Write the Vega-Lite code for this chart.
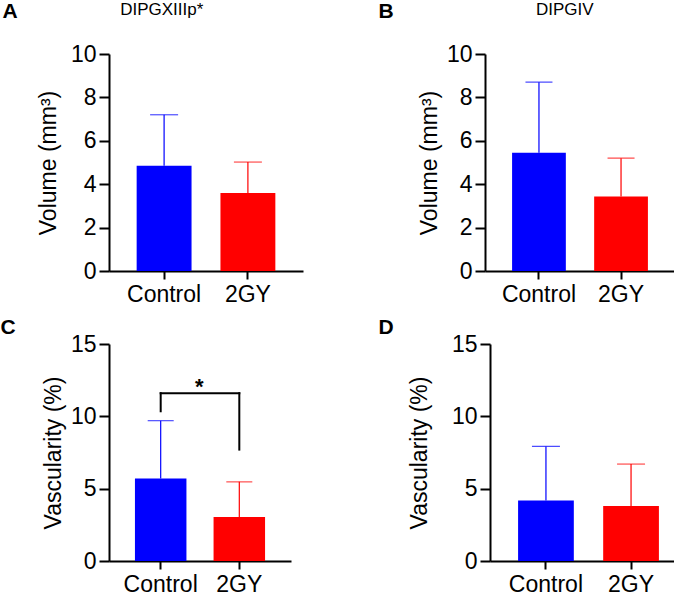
{
  "$schema": "https://vega.github.io/schema/vega-lite/v6.json",
  "padding": {"top": 1, "left": 0, "right": 0, "bottom": 0},
  "background": "white",
  "datasets": {
    "bars": [
      {"panel": "A", "group": "Control", "mean": 4.85, "upper": 7.2},
      {"panel": "A", "group": "2GY", "mean": 3.6, "upper": 5.02},
      {"panel": "B", "group": "Control", "mean": 5.45, "upper": 8.7},
      {"panel": "B", "group": "2GY", "mean": 3.43, "upper": 5.2},
      {"panel": "C", "group": "Control", "mean": 5.7, "upper": 9.7},
      {"panel": "C", "group": "2GY", "mean": 3.05, "upper": 5.47},
      {"panel": "D", "group": "Control", "mean": 4.18, "upper": 7.92},
      {"panel": "D", "group": "2GY", "mean": 3.8, "upper": 6.7}
    ],
    "legs": [
      {"group": "Control", "lo": 10.35, "hi": 11.6},
      {"group": "2GY", "lo": 7.7, "hi": 11.6}
    ],
    "bridge": [{"from": "Control", "to": "2GY", "y": 11.6}],
    "star": [{"group": "Control", "y": 12.0, "label": "*"}]
  },
  "config": {
    "view": {"stroke": null},
    "font": "Liberation Sans",
    "axis": {
      "domainColor": "black", "domainWidth": 2, "tickColor": "black", "tickWidth": 2, "tickSize": 8,
      "labelFont": "Liberation Sans", "labelFontSize": 23, "labelColor": "black", "labelPadding": 4,
      "titleFont": "Liberation Sans", "titleFontSize": 23, "titleFontWeight": "normal", "titleColor": "black",
      "grid": false
    },
    "axisX": {"labelAngle": 0, "title": null},
    "axisY": {"tickSize": 10, "labelPadding": 3},
    "title": {"font": "Liberation Sans", "color": "black"}
  },
  "spacing": 11,
  "vconcat": [
    {
      "spacing": 75,
      "hconcat": [
        {
          "title": {"text": "DIPGXIIIp*", "fontSize": 17, "fontWeight": "normal", "anchor": "middle", "dy": 22, "dx": 9},
          "vconcat": [
            {
              "width": 194, "height": 217,
              "title": {"text": "A", "anchor": "start", "frame": "bounds", "fontSize": 21, "fontWeight": "bold", "dx": -35, "offset": 21},
              "data": {"name": "bars"},
              "transform": [{"filter": "datum.panel == 'A'"}],
              "encoding": {
                "x": {"field": "group", "type": "nominal", "sort": ["Control", "2GY"], "scale": {"paddingInner": 0.345, "paddingOuter": 0.33}},
                "color": {"field": "group", "type": "nominal", "scale": {"domain": ["Control", "2GY"], "range": ["#0000FF", "#FF0000"]}, "legend": null}
              },
              "layer": [
                {"mark": {"type": "bar"}, "encoding": {"y": {"field": "mean", "type": "quantitative", "title": "Volume (mm³)", "scale": {"domain": [0, 10], "nice": false}, "axis": {"values": [0, 2, 4, 6, 8, 10], "titlePadding": 10}}}},
                {"mark": {"type": "rule", "strokeWidth": 1.2}, "encoding": {"y": {"field": "mean", "type": "quantitative", "title": "Volume (mm³)"}, "y2": {"field": "upper"}}},
                {"mark": {"type": "tick", "thickness": 1.2, "size": 28}, "encoding": {"y": {"field": "upper", "type": "quantitative", "title": "Volume (mm³)"}}}
              ]
            }
          ]
        },
        {
          "title": {"text": "DIPGIV", "fontSize": 17, "fontWeight": "normal", "anchor": "middle", "dy": 22, "dx": 38},
          "vconcat": [
            {
              "width": 190, "height": 217,
              "title": {"text": "B", "anchor": "start", "frame": "bounds", "fontSize": 21, "fontWeight": "bold", "dx": -40, "offset": 21},
              "data": {"name": "bars"},
              "transform": [{"filter": "datum.panel == 'B'"}],
              "encoding": {
                "x": {"field": "group", "type": "nominal", "sort": ["Control", "2GY"], "scale": {"paddingInner": 0.345, "paddingOuter": 0.33}},
                "color": {"field": "group", "type": "nominal", "scale": {"domain": ["Control", "2GY"], "range": ["#0000FF", "#FF0000"]}, "legend": null}
              },
              "layer": [
                {"mark": {"type": "bar"}, "encoding": {"y": {"field": "mean", "type": "quantitative", "title": "Volume (mm³)", "scale": {"domain": [0, 10], "nice": false}, "axis": {"values": [0, 2, 4, 6, 8, 10], "titlePadding": 5}}}},
                {"mark": {"type": "rule", "strokeWidth": 1.2}, "encoding": {"y": {"field": "mean", "type": "quantitative", "title": "Volume (mm³)"}, "y2": {"field": "upper"}}},
                {"mark": {"type": "tick", "thickness": 1.2, "size": 27}, "encoding": {"y": {"field": "upper", "type": "quantitative", "title": "Volume (mm³)"}}}
              ]
            }
          ]
        }
      ]
    },
    {
      "spacing": 87,
      "hconcat": [
        {
          "width": 182, "height": 217,
          "title": {"text": "C", "anchor": "start", "frame": "bounds", "fontSize": 21, "fontWeight": "bold", "dx": -42, "offset": -5},
          "encoding": {
            "x": {"field": "group", "type": "nominal", "sort": ["Control", "2GY"], "scale": {"domain": ["Control", "2GY"], "paddingInner": 0.345, "paddingOuter": 0.33}}
          },
          "layer": [
            {
              "data": {"name": "bars"},
              "transform": [{"filter": "datum.panel == 'C'"}],
              "encoding": {"color": {"field": "group", "type": "nominal", "scale": {"domain": ["Control", "2GY"], "range": ["#0000FF", "#FF0000"]}, "legend": null}},
              "layer": [
                {"mark": {"type": "bar"}, "encoding": {"y": {"field": "mean", "type": "quantitative", "title": "Vascularity (%)", "scale": {"domain": [0, 15], "nice": false}, "axis": {"values": [0, 5, 10, 15], "titlePadding": 5}}}},
                {"mark": {"type": "rule", "strokeWidth": 1.2}, "encoding": {"y": {"field": "mean", "type": "quantitative", "title": "Vascularity (%)"}, "y2": {"field": "upper"}}},
                {"mark": {"type": "tick", "thickness": 1.2, "size": 26}, "encoding": {"y": {"field": "upper", "type": "quantitative", "title": "Vascularity (%)"}}}
              ]
            },
            {
              "data": {"name": "legs"},
              "mark": {"type": "rule", "strokeWidth": 2, "color": "black", "strokeCap": "square"},
              "encoding": {"y": {"field": "lo", "type": "quantitative", "title": "Vascularity (%)"}, "y2": {"field": "hi"}}
            },
            {
              "data": {"name": "bridge"},
              "mark": {"type": "rule", "strokeWidth": 2, "color": "black", "strokeCap": "square"},
              "encoding": {"x": {"field": "from", "type": "nominal"}, "x2": {"field": "to"}, "y": {"field": "y", "type": "quantitative", "title": "Vascularity (%)"}}
            },
            {
              "data": {"name": "star"},
              "mark": {"type": "text", "fontSize": 22, "fontWeight": "bold", "color": "black", "baseline": "middle"},
              "encoding": {"x": {"field": "group", "type": "nominal", "bandPosition": 1.25}, "y": {"field": "y", "type": "quantitative", "title": "Vascularity (%)"}, "text": {"field": "label"}}
            }
          ]
        },
        {
          "width": 197, "height": 217,
          "title": {"text": "D", "anchor": "start", "frame": "bounds", "fontSize": 21, "fontWeight": "bold", "dx": -30, "offset": -5},
          "data": {"name": "bars"},
          "transform": [{"filter": "datum.panel == 'D'"}],
          "encoding": {
            "x": {"field": "group", "type": "nominal", "sort": ["Control", "2GY"], "scale": {"paddingInner": 0.345, "paddingOuter": 0.33}},
            "color": {"field": "group", "type": "nominal", "scale": {"domain": ["Control", "2GY"], "range": ["#0000FF", "#FF0000"]}, "legend": null}
          },
          "layer": [
            {"mark": {"type": "bar"}, "encoding": {"y": {"field": "mean", "type": "quantitative", "title": "Vascularity (%)", "scale": {"domain": [0, 15], "nice": false}, "axis": {"values": [0, 5, 10, 15], "titlePadding": 20}}}},
            {"mark": {"type": "rule", "strokeWidth": 1.2}, "encoding": {"y": {"field": "mean", "type": "quantitative", "title": "Vascularity (%)"}, "y2": {"field": "upper"}}},
            {"mark": {"type": "tick", "thickness": 1.2, "size": 28}, "encoding": {"y": {"field": "upper", "type": "quantitative", "title": "Vascularity (%)"}}}
          ]
        }
      ]
    }
  ]
}
